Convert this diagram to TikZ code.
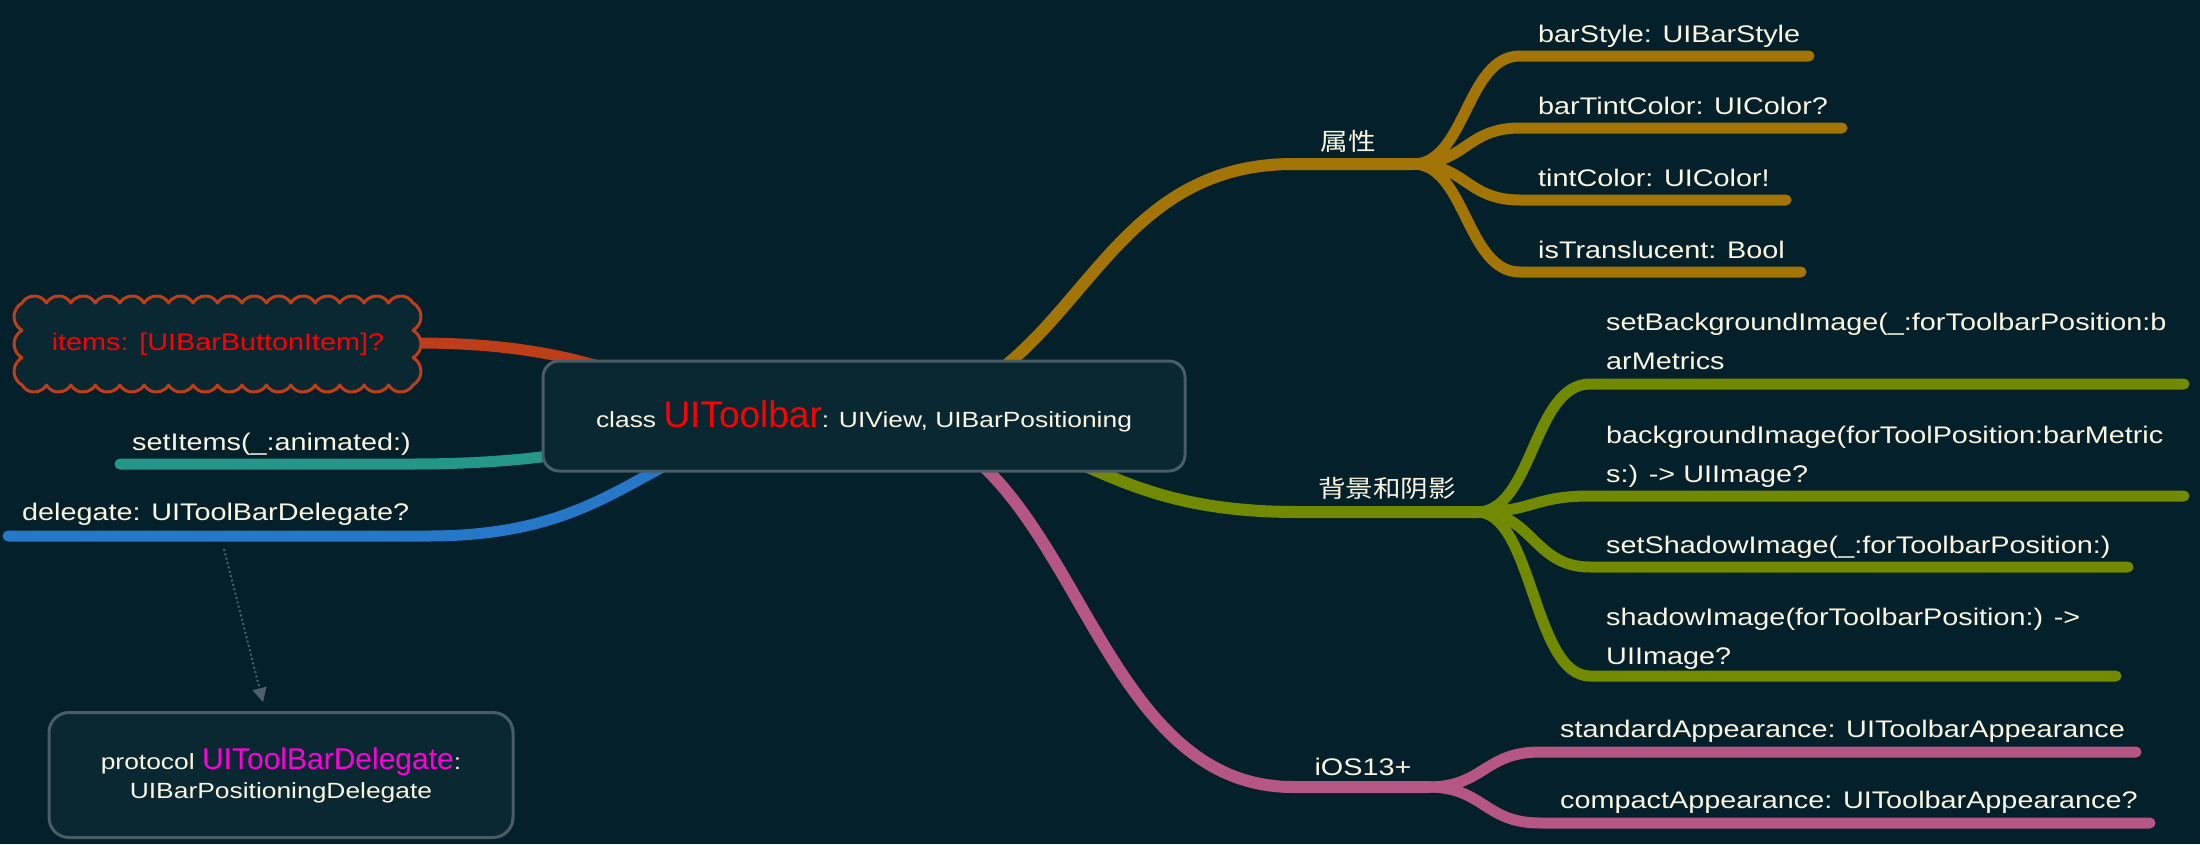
\documentclass[tikz,border=0pt]{standalone}
\usepackage{fontspec}
\setmainfont{Liberation Sans}[FakeStretch=1.2]
\newfontfamily\bigfont{Liberation Sans}
\newfontfamily\cjk{Noto Sans CJK SC}[FakeStretch=1.15]
\usetikzlibrary{arrows.meta}

\definecolor{bgc}{HTML}{04202A}
\definecolor{boxc}{HTML}{0A2832}
\definecolor{edgec}{HTML}{4A5C66}
\definecolor{txtc}{HTML}{FBF6E2}
\definecolor{goldc}{HTML}{A37507}
\definecolor{olivec}{HTML}{718A01}
\definecolor{pinkc}{HTML}{B65685}
\definecolor{itemc}{HTML}{BE3E1A}
\definecolor{tealc}{HTML}{24968A}
\definecolor{bluec}{HTML}{2777C9}
\definecolor{arrc}{HTML}{4D5F69}
\definecolor{magc}{HTML}{FF00DC}

\tikzset{
    leaf/.style={anchor=base west, inner sep=0pt, text=txtc, align=left, font=\fontsize{24}{39}\selectfont},
    topic/.style={anchor=base, inner sep=0pt, text=txtc, font=\fontsize{24}{29}\selectfont},
    branch/.style={line width=12pt, line cap=round},
    twig/.style={line width=11pt, line cap=round},
    rootbox/.style={draw=edgec, line width=3pt, fill=boxc, rounded corners=16pt, text=txtc, font=\fontsize{22}{29}\selectfont},
    puff/.style={draw=itemc, line width=3pt, fill=boxc, line join=round},
    dotarrow/.style={draw=arrc, line width=2pt, dash pattern=on 2pt off 2.5pt, -{Triangle[width=14pt,length=14pt]}}
}

\begin{document}
\begin{tikzpicture}[x=1pt,y=-1pt]
            \fill[bgc] (0,0) rectangle (2200,844);
            \coordinate (root) at (864,416);
            % properties
            \coordinate (pf) at (1413,164);
            \node[topic] (prop) at (1348,150) {\cjk 属性};
            \draw[branch, goldc] (root) .. controls (1078,416) and (1078,164) .. (1293,164) -- (pf);
            \foreach \nm/\y/\e/\txt in {bs/56/1809/{barStyle: UIBarStyle}, btc/128/1842/{barTintColor: UIColor?},
                    tc/200/1786/{tintColor: UIColor!}, tr/272/1801/{isTranslucent: Bool}}{
                \coordinate (\nm a) at (1520,\y);
                \coordinate (\nm b) at (\e,\y);
                \node[leaf] (\nm) at (1538,\y-14) {\txt};
                \draw[twig, goldc] (pf) .. controls (1466,164) and (1466,\y) .. (\nm a) -- (\nm b);
            }
            % background and shadow
            \coordinate (bf) at (1477,512);
            \node[topic] (bgs) at (1387,497) {\cjk 背景和阴影};
            \draw[branch, olivec] (root) .. controls (1081,416) and (1081,512) .. (1298,512) -- (bf);
            \foreach \nm/\y/\e/\b/\txt in {sbi/384/2184/369/{setBackgroundImage(\_:forToolbarPosition:b\\arMetrics},
                    bi/496/2184/482/{backgroundImage(forToolPosition:barMetric\\s:) -> UIImage?},
                    ssi/567/2128/553/{setShadowImage(\_:forToolbarPosition:)},
                    shi/676/2116/664/{shadowImage(forToolbarPosition:) ->\\UIImage?}}{
                \coordinate (\nm a) at (1590,\y);
                \coordinate (\nm b) at (\e,\y);
                \node[leaf] (\nm) at (1606,\b) {\txt};
                \draw[twig, olivec] (bf) .. controls (1533,512) and (1533,\y) .. (\nm a) -- (\nm b);
            }
            % iOS 13
            \coordinate (if) at (1428,787);
            \node[topic] (ios) at (1363,775) {iOS13+};
            \draw[branch, pinkc] (root) .. controls (1078,416) and (1078,787) .. (1293,787) -- (if);
            \foreach \nm/\y/\e/\txt in {sa/752/2136/{standardAppearance: UIToolbarAppearance},
                    ca/823/2150/{compactAppearance: UIToolbarAppearance?}}{
                \coordinate (\nm a) at (1540,\y);
                \coordinate (\nm b) at (\e,\y);
                \node[leaf] (\nm) at (1560,\y-15) {\txt};
                \draw[twig, pinkc] (if) .. controls (1484,787) and (1484,\y) .. (\nm a) -- (\nm b);
            }
            % left side
            \coordinate (cl) at (22,303);
            \coordinate (clr) at (416,343);
            \draw[twig, itemc] (root) .. controls (642,416) and (642,343) .. (clr);
            \draw[puff] (cl)
                \foreach \i in {1,...,16} {arc[start angle=150, end angle=30, radius=14.11pt]}
                \foreach \i in {1,2,3} {arc[start angle=60, end angle=-60, radius=15.78pt]}
                \foreach \i in {1,...,16} {arc[start angle=-30, end angle=-150, radius=14.11pt]}
                \foreach \i in {1,2,3} {arc[start angle=-120, end angle=-240, radius=15.78pt]} -- cycle;
            \node[topic, anchor=center, text=red] (items) at (218,344) {items: [UIBarButtonItem]?};
            \node[leaf] (si) at (132,450) {setItems(\_:animated:)};
            \coordinate (sia) at (410,464);
            \coordinate (sib) at (120,464);
            \draw[twig, tealc] (root) .. controls (637,416) and (637,464) .. (sia) -- (sib);
            \node[leaf] (dlg) at (22,520) {delegate: UIToolBarDelegate?};
            \coordinate (dlga) at (428,536);
            \coordinate (dlgb) at (8,536);
            \draw[twig, bluec] (root) .. controls (646,416) and (646,536) .. (dlga) -- (dlgb);
            % protocol
            \node[rootbox, minimum width=464pt, minimum height=125pt, rounded corners=20pt, align=center] (proto) at (281,775)
                {protocol {\bigfont\fontsize{30}{29}\selectfont\color{magc}UIToolBarDelegate}:\\UIBarPositioningDelegate};
            \coordinate (dlgtail) at (224,549);
            \draw[dotarrow] (dlgtail) -- ([xshift=-18pt,yshift=9pt]proto.north);
            % root
            \node[rootbox, minimum width=642pt, minimum height=110pt] (c) at (root)
                {class {\bigfont\fontsize{37}{40}\selectfont\color{red}UIToolbar}: UIView, UIBarPositioning};
\end{tikzpicture}
\end{document}
